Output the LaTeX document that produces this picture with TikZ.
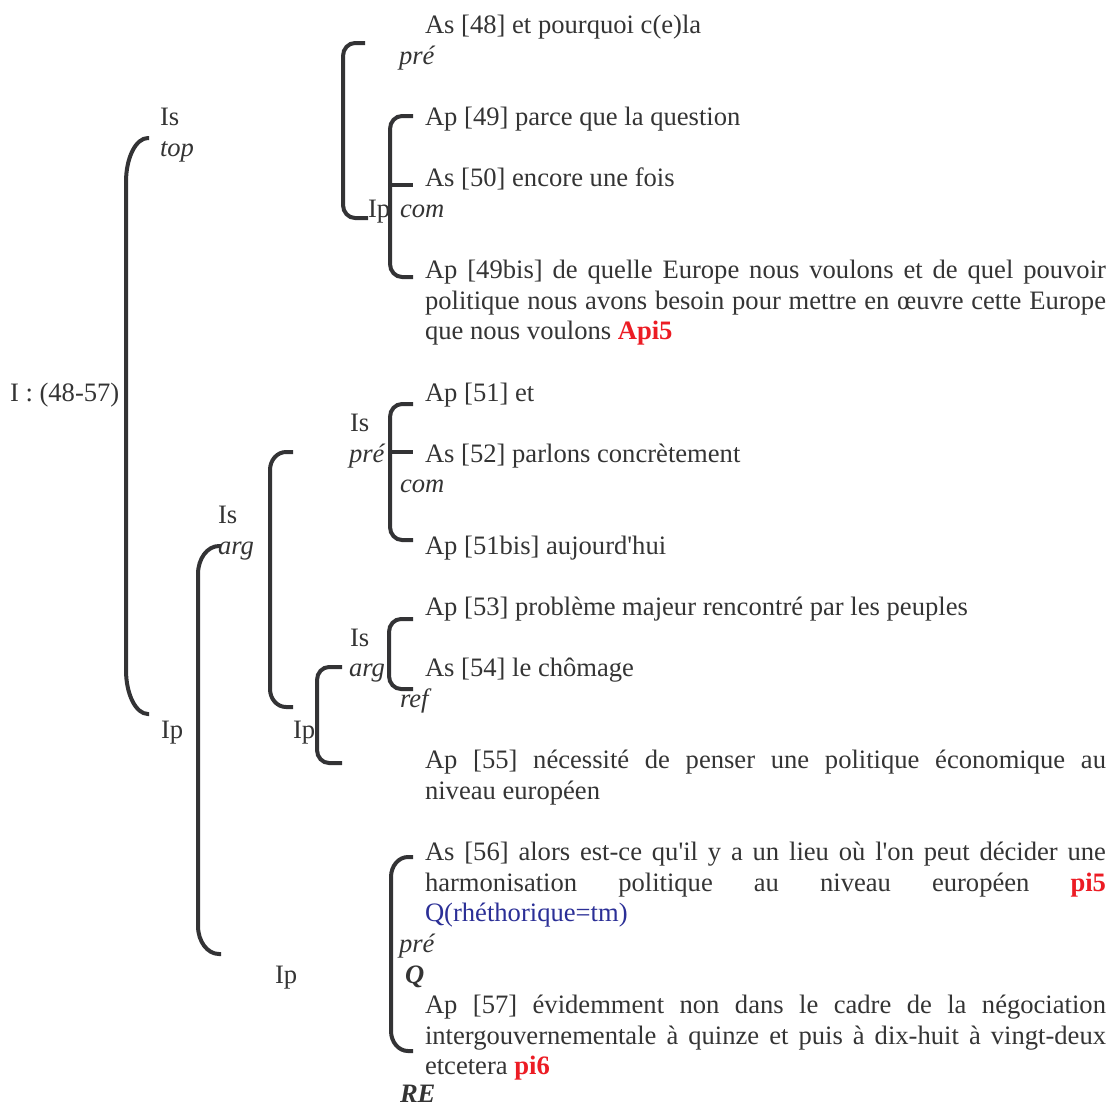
\documentclass[tikz,border=0pt]{standalone}
\usepackage{fontspec}
\setmainfont{Liberation Serif}[Ligatures=TeXOff]
\usepackage{xcolor}
\definecolor{txt}{RGB}{52,52,52}
\definecolor{brc}{RGB}{51,51,53}
\definecolor{red5}{RGB}{236,28,36}
\definecolor{blue5}{RGB}{43,47,150}
\newcommand\fsz{\fontsize{26.6}{30.63}\selectfont}
% #1 xv, #2 x top end, #3 y top, #4 x bottom end, #5 y bottom, #6 rx, #7 ry
\newcommand\brk[7]{\draw[brk] (#2,#3) -- ({#1+#6},#3) .. controls ({#1+0.448*#6},#3) and (#1,{#3+0.448*#7}) .. (#1,{#3+#7}) -- (#1,{#5-#7}) .. controls (#1,{#5-0.448*#7}) and ({#1+0.448*#6},#5) .. ({#1+#6},#5) -- (#4,#5);}
\tikzset{
  t/.style={anchor=base west, inner sep=0pt, outer sep=0pt, text=txt, font=\fsz},
  it/.style={font=\fsz\itshape},
  bfit/.style={font=\fsz\bfseries\itshape},
  brk/.style={draw=brc, line width=4pt, line cap=butt}
}
\begin{document}
\begin{tikzpicture}[x=1pt,y=-1pt]
\useasboundingbox (0,0) rectangle (1118,1106);
% brackets
\brk{126}{149}{138}{149}{714}{22}{44}
\brk{343}{365}{43}{368}{218}{12}{13}
\brk{390}{413}{116}{413}{277}{12}{13}
\draw[brk] (390,185) -- (413,185);
\brk{390}{413}{404}{413}{540}{12}{13}
\draw[brk] (390,452) -- (413,452);
\brk{270}{293}{452}{293}{707}{16}{18}
\brk{198}{221}{546}{221}{954}{21}{28}
\brk{389}{413}{619}{413}{689}{12}{13}
\brk{317}{342}{667}{342}{763}{12}{13}
\brk{391}{413}{857}{413}{1051}{17}{20}
% texts
\begin{scope}[yshift=-2.5pt]
\node[t] (as48) at (425,31) {As [48] et pourquoi c(e)la};
\node[t,it] (pre1) at (399,61.63) {pré};
\node[t] (ap49) at (425,122.89) {Ap [49] parce que la question};
\node[t] (is1) at (160,122.89) {Is};
\node[t,it] (top) at (160,153.52) {top};
\node[t] (as50) at (425,184.15) {As [50] encore une fois};
\node[t] (ip1) at (368,214.78) {Ip};
\node[t,it] (com1) at (400,214.78) {com};
\node[t] (ap49b1) at (425,276.04) {\makebox[681pt][s]{Ap [49bis] de quelle Europe nous voulons et de quel pouvoir}};
\node[t] (ap49b2) at (425,306.67) {\makebox[681pt][s]{politique nous avons besoin pour mettre en œuvre cette Europe}};
\node[t] (ap49b3) at (425,337.3) {que nous voulons \textcolor{red5}{\textbf{Api5}}};
\node[t] (I) at (10,398.56) {I : (48-57)};
\node[t] (ap51) at (425,398.56) {Ap [51] et};
\node[t] (is2) at (350,429.19) {Is};
\node[t,it] (pre2) at (349,459.82) {pré};
\node[t] (as52) at (425,459.82) {As [52] parlons concrètement};
\node[t,it] (com2) at (400,490.45) {com};
\node[t] (is3) at (218,521.08) {Is};
\node[t,it] (arg1) at (218,551.71) {arg};
\node[t] (ap51b) at (425,551.71) {Ap [51bis] aujourd'hui};
\node[t] (ap53) at (425,612.97) {Ap [53] problème majeur rencontré par les peuples};
\node[t] (is4) at (350,643.6) {Is};
\node[t,it] (arg2) at (349,674.23) {arg};
\node[t] (as54) at (425,674.23) {As [54] le chômage};
\node[t,it] (ref) at (400,704.86) {ref};
\node[t] (ip2) at (161,735.49) {Ip};
\node[t] (ip3) at (293,735.49) {Ip};
\node[t] (ap55a) at (425,766.12) {\makebox[681pt][s]{Ap [55] nécessité de penser une politique économique au}};
\node[t] (ap55b) at (425,796.75) {niveau européen};
\node[t] (as56a) at (425,858.01) {\makebox[681pt][s]{As [56] alors est-ce qu'il y a un lieu où l'on peut décider une}};
\node[t] (as56b) at (425,888.64) {\makebox[681pt][s]{harmonisation politique au niveau européen \textcolor{red5}{\textbf{pi5}}}};
\node[t,text=blue5] (as56c) at (425,919.27) {Q(rhéthorique=tm)};
\node[t,it] (pre3) at (399,949.9) {pré};
\node[t,bfit] (Q) at (405,980.53) {Q};
\node[t] (ip4) at (275,980.53) {Ip};
\node[t] (ap57a) at (425,1011.16) {\makebox[681pt][s]{Ap [57] évidemment non dans le cadre de la négociation}};
\node[t] (ap57b) at (425,1041.79) {\makebox[681pt][s]{intergouvernementale à quinze et puis à dix-huit à vingt-deux}};
\node[t] (ap57c) at (425,1072.42) {etcetera \textcolor{red5}{\textbf{pi6}}};
\end{scope}
\node[t,bfit] (RE) at (400,1102.5) {RE};
\end{tikzpicture}
\end{document}
